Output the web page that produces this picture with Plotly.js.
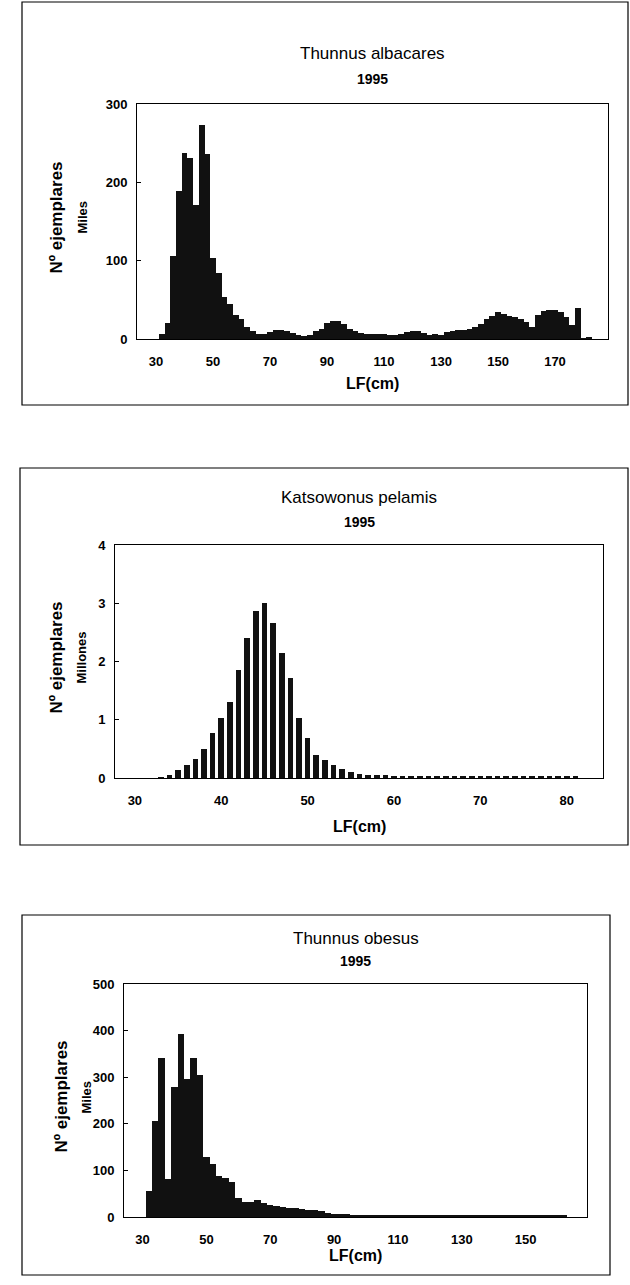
<!DOCTYPE html>
<html>
<head>
<meta charset="utf-8">
<script src="https://cdn.plot.ly/plotly-3.0.1.min.js"></script>
<style>
  html, body { margin: 0; padding: 0; background: #fff; }
  #chart { width: 630px; height: 1285px; }
</style>
</head>
<body>
<div id="chart"></div>
<script>
// ---------- Data ----------
// Thunnus albacares 1995 (2 cm classes, thousands)
const albacaresLF = [32,34,36,38,40,42,44,46,48,50,52,54,56,58,60,62,64,66,68,70,72,74,76,78,80,82,84,86,88,90,92,94,96,98,100,102,104,106,108,110,112,114,116,118,120,122,124,126,128,130,132,134,136,138,140,142,144,146,148,150,152,154,156,158,160,162,164,166,168,170,172,174,176,178,180,182];
const albacaresN = [6,21,106,189,238,231,171,273,236,103,84,54,45,31,25,15,10,7,7,9,12,12,10,8,5,4,5,10,13,20,23,23,19,13,10,8,7,7,7,6,5,5,6,9,10,10,8,5,6,5,9,10,12,12,13,15,19,26,30,34,32,30,28,25,22,15,31,36,37,37,35,28,18,39,1.5,2];

// Katsuwonus pelamis 1995 (1 cm classes, millions)
const pelamisLF = [33,34,35,36,37,38,39,40,41,42,43,44,45,46,47,48,49,50,51,52,53,54,55,56,57,58,59,60,61,62,63,64,65,66,67,68,69,70,71,72,73,74,75,76,77,78,79,80,81];
const pelamisN = [0.02,0.05,0.14,0.23,0.32,0.49,0.77,1.03,1.31,1.85,2.41,2.86,3.0,2.66,2.14,1.71,1.03,0.68,0.40,0.31,0.22,0.15,0.10,0.07,0.06,0.05,0.045,0.04,0.04,0.04,0.04,0.04,0.04,0.04,0.04,0.04,0.04,0.04,0.035,0.035,0.035,0.035,0.035,0.035,0.035,0.035,0.035,0.035,0.035];

// Thunnus obesus 1995 (2 cm classes, thousands)
const obesusLF = [32,34,36,38,40,42,44,46,48,50,52,54,56,58,60,62,64,66,68,70,72,74,76,78,80,82,84,86,88,90,92,94,96,98,100,102,104,106,108,110,112,114,116,118,120,122,124,126,128,130,132,134,136,138,140,142,144,146,148,150,152,154,156,158,160,162];
const obesusN = [55,206,341,82,278,393,297,342,305,128,114,88,84,76,40,33,32,36,31,26,24,22,20,19,17,15,14,12,9,7,6,6,5,5,5,4,4,4,4,4,4,4,4,4,4,4,4,4,4,4,4,4,4,4,4,4,4,4,4,4,4,4,4,4,4,4];

const titles = ["Thunnus albacares", "Katsowonus pelamis", "Thunnus obesus"];
const yearLabel = "1995";
const yTitle = "Nº ejemplares";
const yUnits = ["Miles", "Millones", "Miles"];
const xTitle = "LF(cm)";
const xTicks1 = [30,50,70,90,110,130,150,170];
const xTicks2 = [30,40,50,60,70,80];
const xTicks3 = [30,50,70,90,110,130,150];
const yTicks1 = [0,100,200,300];
const yTicks2 = [0,1,2,3,4];
const yTicks3 = [0,100,200,300,400,500];

// ---------- Layout helpers ----------
const W = 630, H = 1285;
const px = x => x / W;
const py = y => 1 - y / H;
const FONT = "Liberation Sans, Arial, Helvetica, sans-serif";
const BAR = "#111111";

const traces = [
  {type:"bar", x: albacaresLF, y: albacaresN, width: 2, marker:{color:BAR, line:{width:0}}, xaxis:"x", yaxis:"y"},
  {type:"bar", x: pelamisLF, y: pelamisN, width: 0.65, marker:{color:BAR, line:{width:0}}, xaxis:"x2", yaxis:"y2"},
  {type:"bar", x: obesusLF, y: obesusN, width: 2, marker:{color:BAR, line:{width:0}}, xaxis:"x3", yaxis:"y3"}
];

function xax(dom, range, ticks, anchor) {
  return {domain: dom, range: range, anchor: anchor, tickvals: ticks, ticktext: ticks.map(String),
    showline: true, mirror: true, linecolor: "#000", linewidth: 1, ticks: "", showgrid: false, zeroline: false,
    ticklabelstandoff: 10, tickfont: {family: FONT, size: 13, color: "#000", weight: 700}, fixedrange: true};
}
function yax(dom, range, ticks, anchor) {
  return {domain: dom, range: range, anchor: anchor, tickvals: ticks, ticktext: ticks.map(String),
    showline: true, mirror: true, linecolor: "#000", linewidth: 1, ticks: "inside", ticklen: 4, tickcolor: "#000",
    showgrid: false, zeroline: false, ticklabelstandoff: 6,
    tickfont: {family: FONT, size: 13, color: "#000", weight: 700}, fixedrange: true};
}

const charts = [
  {l:137, r:608, t:104, b:339, frame:[22,2,628,405], titleY:54, yearY:79, lfY:383, ylabX:56, unitX:82},
  {l:115, r:603, t:545, b:778, frame:[20,468,628,845], titleY:498, yearY:522, lfY:826, ylabX:56, unitX:81},
  {l:124, r:587, t:984, b:1217, frame:[22,915,610,1275], titleY:938, yearY:961, lfY:1255, ylabX:61, unitX:86}
];

const annotations = [];
const shapes = [];
charts.forEach((c, i) => {
  const cx = (c.l + c.r) / 2;
  const cy = (c.t + c.b) / 2;
  annotations.push({text: titles[i], xref:"paper", yref:"paper", x: px(cx), y: py(c.titleY), showarrow:false,
    xanchor:"center", yanchor:"middle", font:{family:FONT, size:17, color:"#000"}});
  annotations.push({text: yearLabel, xref:"paper", yref:"paper", x: px(cx), y: py(c.yearY), showarrow:false,
    xanchor:"center", yanchor:"middle", font:{family:FONT, size:14, color:"#000", weight:700}});
  annotations.push({text: xTitle, xref:"paper", yref:"paper", x: px(cx), y: py(c.lfY), showarrow:false,
    xanchor:"center", yanchor:"middle", font:{family:FONT, size:16, color:"#000", weight:700}});
  annotations.push({text: yTitle, xref:"paper", yref:"paper", x: px(c.ylabX), y: py(cy - 4), showarrow:false,
    textangle:-90, xanchor:"center", yanchor:"middle", font:{family:FONT, size:17, color:"#000", weight:700}});
  annotations.push({text: yUnits[i], xref:"paper", yref:"paper", x: px(c.unitX), y: py(cy - 4), showarrow:false,
    textangle:-90, xanchor:"center", yanchor:"middle", font:{family:FONT, size:13, color:"#000", weight:700}});
  shapes.push({type:"rect", xref:"paper", yref:"paper", x0: px(c.frame[0]), x1: px(c.frame[2]),
    y0: py(c.frame[3]), y1: py(c.frame[1]), line:{color:"#000", width:1.2}});
});

const layout = {
  width: W, height: H, margin: {l:0, r:0, t:0, b:0},
  paper_bgcolor: "#fff", plot_bgcolor: "#fff", showlegend: false, bargap: 0,
  font: {family: FONT, color: "#000"},
  xaxis: xax([px(charts[0].l), px(charts[0].r)], [23.3, 188.6], xTicks1, "y"),
  yaxis: yax([py(charts[0].b), py(charts[0].t)], [0, 300], yTicks1, "x"),
  xaxis2: xax([px(charts[1].l), px(charts[1].r)], [27.7, 84.2], xTicks2, "y2"),
  yaxis2: yax([py(charts[1].b), py(charts[1].t)], [0, 4], yTicks2, "x2"),
  xaxis3: xax([px(charts[2].l), px(charts[2].r)], [24.2, 169.2], xTicks3, "y3"),
  yaxis3: yax([py(charts[2].b), py(charts[2].t)], [0, 500], yTicks3, "x3"),
  annotations: annotations,
  shapes: shapes
};

Plotly.newPlot("chart", traces, layout, {staticPlot: true, displayModeBar: false});
</script>
</body>
</html>
